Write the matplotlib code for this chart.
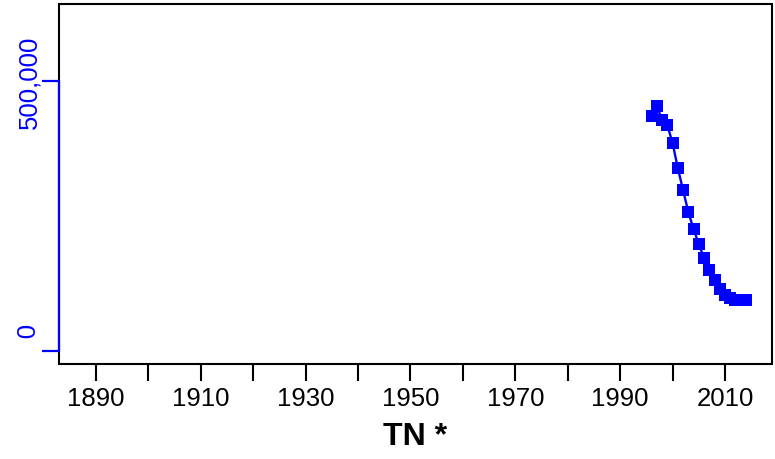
import matplotlib
matplotlib.use("Agg")
import matplotlib.pyplot as plt
from matplotlib.patches import Rectangle

plt.rcParams['font.family'] = ['Liberation Sans', 'DejaVu Sans']

# data
years = list(range(1996, 2015))
values = [435000, 453700, 427800, 418500, 385200, 338900, 298100, 257400,
          225900, 198100, 172200, 150000, 131500, 114800, 103700, 98100,
          94400, 94400, 94400]

xticks = list(range(1890, 2011, 10))
xticklabels = [str(y) if (y - 1890) % 20 == 0 else '' for y in xticks]
yticks = [0, 500000]
yticklabels = ['      0', '500,000']  # R format() pads to a common width
xlabel = 'TN *'

fig = plt.figure(figsize=(7.75, 4.6), dpi=100)
ax = fig.add_axes([59 / 775, 1 - 365 / 460, (772 - 59) / 775, 360 / 460])

ax.plot(years, values, color='blue', lw=1.7, marker='s', markersize=8.5,
        markeredgewidth=0, zorder=3)

ax.set_xlim(1882.94, 2018.97)
ax.set_ylim(-24074, 642593)

# box around plot region
for s in ax.spines.values():
    s.set_visible(False)
ax.add_patch(Rectangle((0, 0), 1, 1, transform=ax.transAxes, fill=False,
                       edgecolor='black', lw=1.5, clip_on=False, zorder=4))
ax.spines['left'].set_visible(True)
ax.spines['left'].set_color('blue')
ax.spines['left'].set_linewidth(1.6)
ax.spines['left'].set_bounds(0, 500000)
ax.spines['left'].set_zorder(5)

ax.set_xticks(xticks)
ax.set_xticklabels(xticklabels)
ax.tick_params(axis='x', length=12, width=1.5, labelsize=18.5, pad=4,
               color='black')
ax.set_yticks(yticks)
ax.set_yticklabels(yticklabels, rotation=90, va='center')
ax.tick_params(axis='y', length=12, width=1.6, labelsize=18.5, pad=1,
               color='blue', labelcolor='blue')

ax.set_xlabel(xlabel, fontsize=23, fontweight='bold', labelpad=8)

fig.savefig('out.png', dpi=100)
